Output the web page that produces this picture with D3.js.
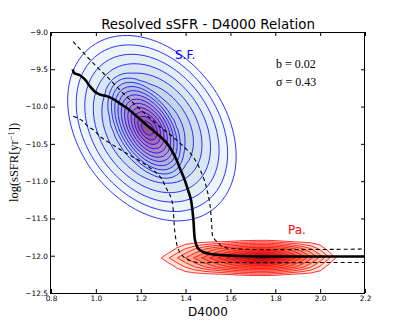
<!DOCTYPE html>
<html><head><meta charset="utf-8">
<script src="https://cdn.jsdelivr.net/npm/d3@7"></script>
<style>body{margin:0;background:#fff}svg{display:block}</style>
</head><body>
<script>
// ---------------- data ----------------
const xTicks = [0.8, 1.0, 1.2, 1.4, 1.6, 1.8, 2.0, 2.2];
const yTicks = [-9.0, -9.5, -10.0, -10.5, -11.0, -11.5, -12.0, -12.5];

// running median of the resolved sSFR vs D4000
const medianD4000 = [0.897,0.903,0.929,0.952,0.974,0.996,1.019,1.048,1.078,1.108,1.138,1.182,1.227,1.271,1.316,1.353,1.375,1.393,1.411,1.424,1.435,1.442,1.455,1.478,1.518,1.611,1.776,2.0,2.2];
const medianSSFR  = [-9.50,-9.55,-9.58,-9.64,-9.73,-9.80,-9.84,-9.86,-9.90,-9.96,-10.02,-10.13,-10.25,-10.36,-10.49,-10.67,-10.83,-10.96,-11.12,-11.25,-11.52,-11.79,-11.90,-11.95,-11.98,-12.00,-12.01,-12.01,-12.01];
// upper (84th) percentile
const upperD4000 = [0.899,0.989,1.063,1.138,1.210,1.286,1.360,1.433,1.478,1.496,1.509,1.517,1.522,1.539,1.567,1.643,2.2];
const upperSSFR  = [-9.13,-9.42,-9.64,-9.87,-10.07,-10.27,-10.45,-10.67,-10.94,-11.12,-11.32,-11.61,-11.75,-11.81,-11.88,-11.91,-11.91];
// lower (16th) percentile
const lowerD4000 = [0.899,0.922,0.944,0.965,0.989,1.018,1.063,1.138,1.212,1.286,1.313,1.338,1.353,1.366,1.389,1.433,1.553,2.2];
const lowerSSFR  = [-10.13,-10.16,-10.20,-10.27,-10.31,-10.40,-10.49,-10.63,-10.76,-10.94,-11.09,-11.25,-11.70,-11.90,-12.01,-12.08,-12.09,-12.09];

// star-forming (S.F.) density model: narrow core + broad envelope (cone profiles)
const sfCentreX = [1.22, 1.25];
const sfCentreY = [-10.28, -10.29];
const sfWeights = [0.4, 0.6];
const sfMajor   = [2.7, 5.0];   // in units of 0.1 D4000 / 0.3 dex
const sfMinor   = [1.3, 3.6];
const sfAngle   = [60, 54];     // degrees, major axis below horizontal
const sfLevels  = 16;

// passive (Pa.) density model (cone profile)
const paCentre  = [1.745, -12.03];
const paScaleX  = [4.9, 3.5];   // left, right (units of 0.1 D4000)
const paScaleY  = 0.85;         // units of 0.3 dex
const paLevels  = 12;

const stats = ["b = 0.02", "\u03c3 = 0.43"];

// ---------------- chart ----------------
const W = 407, H = 326;
const x = d3.scaleLinear().domain([0.8, 2.2]).range([51, 365]);
const y = d3.scaleLinear().domain([-12.5, -9.0]).range([293, 32]);

const svg = d3.select("body").append("svg").attr("width", W).attr("height", H)
  .style("font-family", "'DejaVu Sans', sans-serif");

svg.append("clipPath").attr("id", "clip").append("rect")
  .attr("x", x(0.8)).attr("y", y(-9)).attr("width", x(2.2) - x(0.8)).attr("height", y(-12.5) - y(-9));
const plot = svg.append("g").attr("clip-path", "url(#clip)");

function sfDensity(X, Y) {
  let s = 0;
  for (let k = 0; k < sfWeights.length; k++) {
    const u = (X - sfCentreX[k]) / 0.1, w = -(Y - sfCentreY[k]) / 0.3;
    const th = sfAngle[k] * Math.PI / 180;
    const t = u * Math.cos(th) + w * Math.sin(th);
    const n = -u * Math.sin(th) + w * Math.cos(th);
    s += sfWeights[k] * Math.max(0, 1 - Math.hypot(t / sfMajor[k], n / sfMinor[k]));
  }
  return s;
}
function paDensity(X, Y) {
  const u = (X - paCentre[0]) / 0.1, w = (Y - paCentre[1]) / 0.3;
  const a = u < 0 ? paScaleX[0] : paScaleX[1];
  return Math.max(0, 1 - Math.hypot(u / a, w / paScaleY));
}

function drawDensity(fn, grid, nLevels, cmap, tRange, alpha, lineColor) {
  const vals = new Float64Array(grid.n * grid.m);
  for (let j = 0; j < grid.m; j++)
    for (let i = 0; i < grid.n; i++)
      vals[j * grid.n + i] = fn(grid.x0 + i * grid.dx, grid.y0 + j * grid.dy);
  const mx = d3.max(vals);
  const thr = d3.range(1, nLevels + 1).map(k => k / (nLevels + 1) * mx);
  const contours = d3.contours().size([grid.n, grid.m]).thresholds(thr)(vals);
  const proj = d3.geoTransform({
    point(px, py) {
      this.stream.point(x(grid.x0 + (px - 0.5) * grid.dx), y(grid.y0 + (py - 0.5) * grid.dy));
    }
  });
  const path = d3.geoPath(proj);
  const g = plot.append("g");
  contours.forEach((c, k) => {
    const d = path(c); if (!d) return;
    const t = tRange[0] + (tRange[1] - tRange[0]) * k / (nLevels - 1);
    g.append("path").attr("d", d).attr("fill", d3.interpolateRgb("#ffffff", cmap(t))(alpha)).attr("stroke", "none");
  });
  contours.forEach(c => {
    const d = path(c); if (!d) return;
    g.append("path").attr("d", d).attr("fill", "none").attr("stroke", lineColor).attr("stroke-width", 0.8);
  });
}

drawDensity(sfDensity, {x0: 0.6, dx: 0.02, n: 90, y0: -13.0, dy: 0.06, m: 80},
  sfLevels, d3.interpolateBuPu, [0.03, 0.95], 0.68, "#0000ff");
drawDensity(paDensity, {x0: 1.0, dx: 0.04, n: 36, y0: paCentre[1] - 6 * 0.12, dy: 0.12, m: 13},
  paLevels, d3.interpolateReds, [0.1, 1.0], 0.9, "#ff0000");

const line = d3.line().x(d => x(d[0])).y(d => y(d[1])).curve(d3.curveCatmullRom);
plot.append("path").attr("d", line(d3.zip(upperD4000, upperSSFR)))
  .attr("fill", "none").attr("stroke", "#000").attr("stroke-width", 1.1).attr("stroke-dasharray", "4,3");
plot.append("path").attr("d", line(d3.zip(lowerD4000, lowerSSFR)))
  .attr("fill", "none").attr("stroke", "#000").attr("stroke-width", 1.1).attr("stroke-dasharray", "4,3");
plot.append("path").attr("d", line(d3.zip(medianD4000, medianSSFR)))
  .attr("fill", "none").attr("stroke", "#000").attr("stroke-width", 2.6).attr("stroke-linejoin", "round");

// axes
const fmt = d3.format(".1f");
const ax = (g) => g.call(s => s.select(".domain").remove())
  .call(s => s.selectAll("text").attr("font-size", 7.4).attr("font-family", "'DejaVu Sans', sans-serif").attr("fill", "#000"))
  .call(s => s.selectAll("line").attr("stroke", "#000"));
svg.append("g").attr("transform", `translate(0,${y(-12.5)})`)
  .call(d3.axisBottom(x).tickValues(xTicks).tickFormat(fmt).tickSizeInner(-4).tickSizeOuter(0).tickPadding(3)).call(ax);
svg.append("g").attr("transform", `translate(0,${y(-9)})`)
  .call(d3.axisTop(x).tickValues(xTicks).tickFormat("").tickSizeInner(-4).tickSizeOuter(0)).call(ax);
svg.append("g").attr("transform", `translate(${x(0.8)},0)`)
  .call(d3.axisLeft(y).tickValues(yTicks).tickFormat(fmt).tickSizeInner(-4).tickSizeOuter(0).tickPadding(3)).call(ax);
svg.append("g").attr("transform", `translate(${x(2.2)},0)`)
  .call(d3.axisRight(y).tickValues(yTicks).tickFormat("").tickSizeInner(-4).tickSizeOuter(0)).call(ax);

svg.append("rect").attr("x", x(0.8) - 0.5).attr("y", y(-9) + 0.5).attr("width", x(2.2) - x(0.8)).attr("height", y(-12.5) - y(-9))
  .attr("fill", "none").attr("stroke", "#000").attr("stroke-width", 1);

// texts
svg.append("text").attr("x", 208).attr("y", 29).attr("text-anchor", "middle").attr("font-size", 13.4)
  .text("Resolved sSFR - D4000 Relation");
svg.append("text").attr("x", 208).attr("y", 315.5).attr("text-anchor", "middle").attr("font-size", 12)
  .text("D4000");
const yl = svg.append("text").attr("transform", `translate(18,${(y(-9) + y(-12.5)) / 2}) rotate(-90)`)
  .attr("text-anchor", "middle").attr("font-family", "'Liberation Serif', serif").attr("font-size", 12.5);
yl.append("tspan").text("log(sSFR[yr");
yl.append("tspan").attr("font-size", 8.5).attr("dy", -4.5).text("\u22121");
yl.append("tspan").attr("dy", 4.5).text("])");

svg.append("text").attr("x", 175).attr("y", 58.5).attr("font-size", 12).attr("fill", "#0000ff").text("S.F.");
svg.append("text").attr("x", 288).attr("y", 233.5).attr("font-size", 12).attr("fill", "#ff0000").text("Pa.");

stats.forEach((s, i) => {
  svg.append("text").attr("x", 276).attr("y", 67.5 + i * 18.5)
    .attr("font-family", "'Liberation Serif', serif").attr("font-size", 12).text(s);
});
</script>
</body></html>
